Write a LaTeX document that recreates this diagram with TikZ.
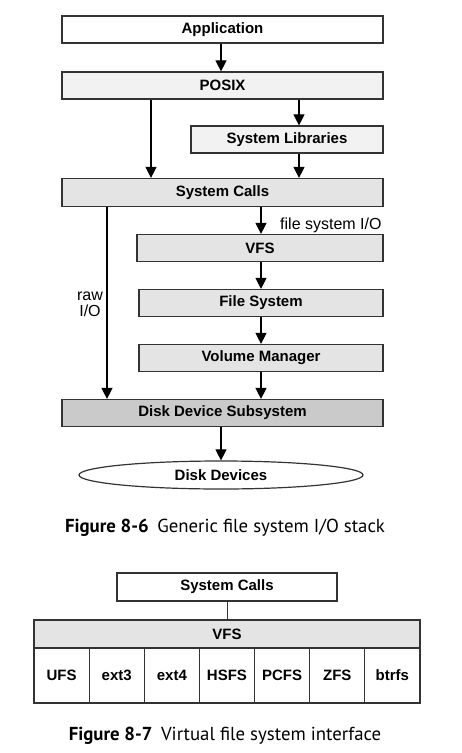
\documentclass[tikz,border=0pt]{standalone}
\usepackage{fontspec}
\setmainfont{Liberation Sans}
\newfontfamily\capfont{PT Sans}
\usetikzlibrary{arrows.meta,shapes.geometric,calc}
\definecolor{lg}{HTML}{F2F2F2}
\definecolor{mg}{HTML}{E4E4E4}
\definecolor{dg}{HTML}{CACACA}
\definecolor{bd}{HTML}{333333}
\tikzset{
  box/.style={draw=bd,line width=1.2pt,inner sep=0pt,minimum height=27pt,font=\fontsize{15}{17}\selectfont\bfseries,text=black},
  arr/.style={line width=1.1pt,draw=black,-{Triangle[length=11pt,width=11pt]}},
  lbl/.style={font=\fontsize{16}{15.5}\selectfont,text=black,inner sep=0pt},
  figcap/.style={font=\capfont\fontsize{18.8}{22}\selectfont,text=black,inner sep=0pt,anchor=base},
  cell/.style={draw=bd,line width=1.2pt,inner sep=0pt,minimum width=55.14pt,minimum height=55pt,font=\fontsize{15}{17}\selectfont\bfseries,fill=white},
}
\begin{document}
\begin{tikzpicture}[x=1pt,y=-1pt]
\useasboundingbox (0,0) rectangle (462,753);
% Figure 8-6
\node[box,fill=white,minimum width=321pt] (app) at (222.5,29.5) {Application};
\node[box,fill=lg,minimum width=321pt] (posix) at (222.5,85.5) {POSIX};
\node[box,fill=lg,minimum width=192pt] (slib) at (287,139.5) {System Libraries};
\node[box,fill=mg,minimum width=321pt,minimum height=28pt] (sc) at (222.5,192.5) {System Calls};
\node[box,fill=mg,minimum width=246pt] (vfs) at (260,248) {VFS};
\node[box,fill=mg,minimum width=244pt] (fs) at (261,303) {File System};
\node[box,fill=mg,minimum width=244pt] (vm) at (261,358) {Volume Manager};
\node[box,fill=dg,minimum width=321pt] (dds) at (222.5,413) {Disk Device Subsystem};
\node[ellipse,draw=bd,line width=1.2pt,fill=white,minimum width=284pt,minimum height=28pt,inner sep=0pt,font=\fontsize{15}{17}\selectfont\bfseries] (disk) at (221,475) {Disk Devices};
\coordinate (xa) at (221,0);
\coordinate (xb) at (151,0);
\coordinate (xc) at (299,0);
\coordinate (xd) at (107,0);
\coordinate (xe) at (261,0);
\draw[arr] (app.south -| xa) -- (posix.north -| xa);
\draw[arr] (posix.south -| xb) -- (sc.north -| xb);
\draw[arr] (posix.south -| xc) -- (slib.north -| xc);
\draw[arr] (slib.south -| xc) -- (sc.north -| xc);
\draw[arr] (sc.south -| xe) -- (vfs.north -| xe);
\draw[arr] (vfs.south -| xe) -- (fs.north -| xe);
\draw[arr] (fs.south -| xe) -- (vm.north -| xe);
\draw[arr] (vm.south -| xe) -- (dds.north -| xe);
\draw[arr] (sc.south -| xd) -- (dds.north -| xd);
\draw[arr] (dds.south -| xa) -- (disk.north -| xa);
\node[lbl,anchor=base west] (fsio) at (280,229.5) {file system I/O};
\node[lbl,align=center,anchor=base] (rawio) at (90,316) {raw\\I/O};
\node[figcap] (cap1) at (225,532) {\textbf{Figure 8-6}\hspace{0.45em}Generic file system I/O stack};
% Figure 8-7
\node[box,fill=white,minimum width=220pt,minimum height=28pt] (sc2) at (227,587) {System Calls};
\node[box,fill=mg,minimum width=386pt,minimum height=28pt] (vfs2) at (227,634) {VFS};
\draw[line width=1pt,draw=bd] (sc2.south) -- (vfs2.north);
\foreach \t [count=\i] in {UFS,ext3,ext4,HSFS,PCFS,ZFS,btrfs}{
  \node[cell] (c\i) at ({34+55.14*(\i-0.5)},675.5) {\t};
}
\node[figcap] (cap2) at (225,740) {\textbf{Figure 8-7}\hspace{0.45em}Virtual file system interface};
\end{tikzpicture}
\end{document}
